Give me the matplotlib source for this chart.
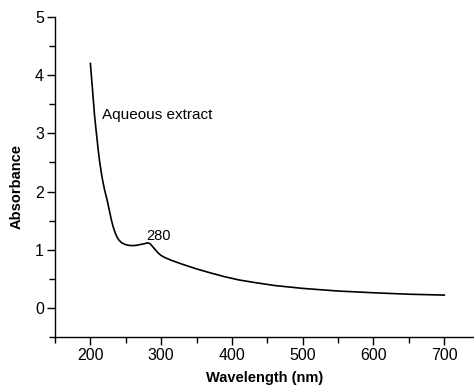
import matplotlib
matplotlib.use("Agg")
import matplotlib.pyplot as plt
from matplotlib.ticker import MultipleLocator

plt.rcParams['font.family'] = ['Liberation Sans', 'DejaVu Sans']

wavelength = [200, 203, 206, 208.5, 211, 213, 215.5, 217, 220, 223.5, 226.5, 229.5, 232, 235,
              237.5, 240, 244, 249, 254, 259, 265, 271, 277, 280, 282, 284, 286, 288.5, 291,
              296, 300, 306, 315, 330, 350, 370, 390, 410, 430, 460, 500, 550, 600, 650, 700]
absorbance = [4.20, 3.75, 3.29, 3.00, 2.72, 2.52, 2.32, 2.21, 2.03, 1.86, 1.69, 1.52, 1.40, 1.29,
              1.22, 1.17, 1.12, 1.09, 1.075, 1.07, 1.075, 1.09, 1.105, 1.115, 1.115, 1.105, 1.08, 1.045, 1.01,
              0.94, 0.90, 0.86, 0.815, 0.75, 0.67, 0.60, 0.535, 0.48, 0.44, 0.385, 0.335, 0.29, 0.26, 0.235, 0.22]

series_label = "Aqueous extract"
peak_label = "280"

fig = plt.figure(figsize=(4.74, 3.87), dpi=100)
ax = fig.add_axes([55/474, 50/387, 1 - 55/474, (337.4 - 17.3)/387])

ax.plot(wavelength, absorbance, color='black', lw=1.2, solid_joinstyle='round')
ax.set_xlim(150, 742)
ax.set_ylim(-0.5, 5)

ax.xaxis.set_major_locator(MultipleLocator(100))
ax.xaxis.set_minor_locator(MultipleLocator(50))
ax.yaxis.set_major_locator(MultipleLocator(1))
ax.yaxis.set_minor_locator(MultipleLocator(0.5))
ax.set_xticks([200, 300, 400, 500, 600, 700])

for s in ['top', 'right']:
    ax.spines[s].set_visible(False)
for s in ['left', 'bottom']:
    ax.spines[s].set_linewidth(1.0)

ax.tick_params(axis='both', which='major', direction='out', length=6, width=1, labelsize=11.5, pad=2)
ax.tick_params(axis='both', which='minor', direction='out', length=4, width=1)

ax.set_xlabel("Wavelength (nm)", fontsize=10.5, fontweight='bold', labelpad=6)
ax.set_ylabel("Absorbance", fontsize=10.5, fontweight='bold')
ax.yaxis.set_label_coords(-0.075, 0.47)

ax.text(217, 3.31, series_label, fontsize=11, va='center', ha='left')
ax.text(278.5, 1.17, peak_label, fontsize=10.5, va='baseline', ha='left')

fig.savefig("out.png", dpi=100)
